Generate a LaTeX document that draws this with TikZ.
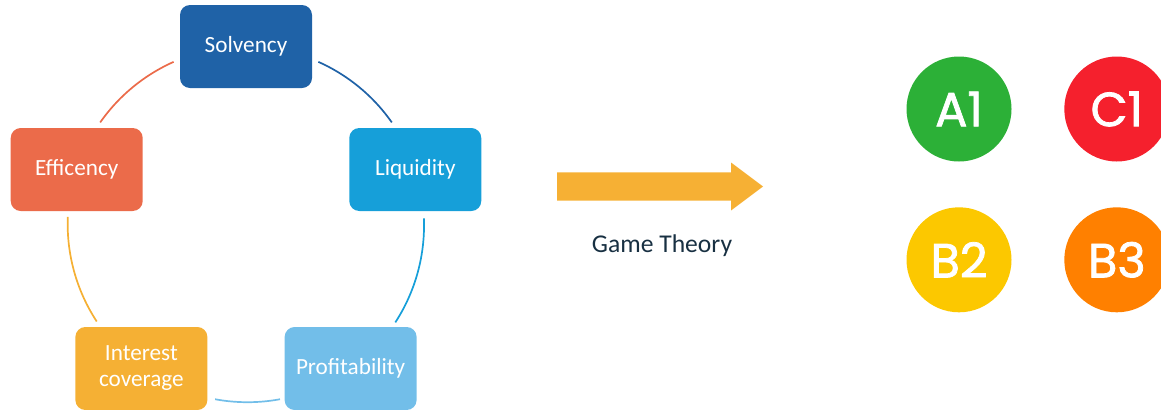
\documentclass[tikz,border=0pt]{standalone}
\usepackage{fontspec}
\setmainfont{Carlito}
\newfontfamily\gradefont[FakeBold=1.6]{Poppins}
\usetikzlibrary{positioning}

\definecolor{solvcol}{RGB}{31,98,167}
\definecolor{liqcol}{RGB}{22,159,217}
\definecolor{profcol}{RGB}{114,190,233}
\definecolor{intcol}{RGB}{245,176,52}
\definecolor{effcol}{RGB}{235,107,74}
\definecolor{arrowcol}{RGB}{246,176,52}
\definecolor{textcol}{RGB}{24,48,66}
\definecolor{gradeA}{RGB}{44,176,55}
\definecolor{gradeC}{RGB}{245,32,45}
\definecolor{gradeB}{RGB}{252,200,0}
\definecolor{gradeBB}{RGB}{255,128,0}

\tikzset{
  ratio/.style={rectangle, rounded corners=5pt, minimum width=66pt, minimum height=41.5pt,
    inner sep=0pt, align=center, text=white, font=\fontsize{11.6}{13}\selectfont},
  ring/.style={line width=0.85pt},
  grade/.style={circle, minimum size=52.5pt, inner sep=0pt, text=white,
    font=\gradefont\fontsize{24}{24}\selectfont},
}

\begin{document}
\begin{tikzpicture}[x=0.5pt,y=0.5pt]
   \useasboundingbox (0,0) rectangle (1161,409);

   \node[circle, minimum size=178pt, inner sep=0pt, outer sep=0pt] (C) at (246,184.5) {} ; %
   \node[ratio, fill=solvcol]      (S)      at (C.90)  {Solvency} ; %
   \node[ratio, fill=liqcol]       (L)      at (C.18)  {Liquidity} ; %
   \node[ratio, fill=profcol]      (P)      at (C.-54) {Profitability} ; %
   \node[ratio, fill=intcol]       (I)      at (C.234) {Interest\\coverage} ; %
   \node[ratio, fill=effcol]       (E)      at (C.162) {Efficency} ; %

  \draw[ring, solvcol] (C.66)   arc[start angle=66,   end angle=35,    radius=89pt] ;
  \draw[ring, liqcol]  (C.2.3)  arc[start angle=2.3,  end angle=-33,   radius=89pt] ;
  \draw[ring, profcol] (C.-79.5) arc[start angle=-79.5, end angle=-100.5, radius=89pt] ;
  \draw[ring, intcol]  (C.213.2) arc[start angle=213.2, end angle=177.7, radius=89pt] ;
  \draw[ring, effcol]  (C.145)  arc[start angle=145,  end angle=114,   radius=89pt] ;

   % game theory arrow
   \coordinate (T) at (557,222.5) ;
   \fill[arrowcol] (T) ++(0,14.2) -- ++(174,0) -- ++(0,9.8) -- (763,222.5)
      -- (731,198.5) -- ++(0,9.8) -- (557,208.3) -- cycle ;
   \node[text=textcol, font=\fontsize{12.8}{14}\selectfont] (G) at (662,163) {Game Theory} ;

   \node[grade, fill=gradeA]                 (A1)     at (959,300) {A1} ; %
   \node[grade, fill=gradeC, right=26pt of A1]  (C1)     {C1} ; %
   \node[grade, fill=gradeB, below=22.5pt of A1] (B2)     {B2} ; %
   \node[grade, fill=gradeBB, right=26pt of B2] (B3)     {B3} ; %

\end{tikzpicture}
\end{document}
